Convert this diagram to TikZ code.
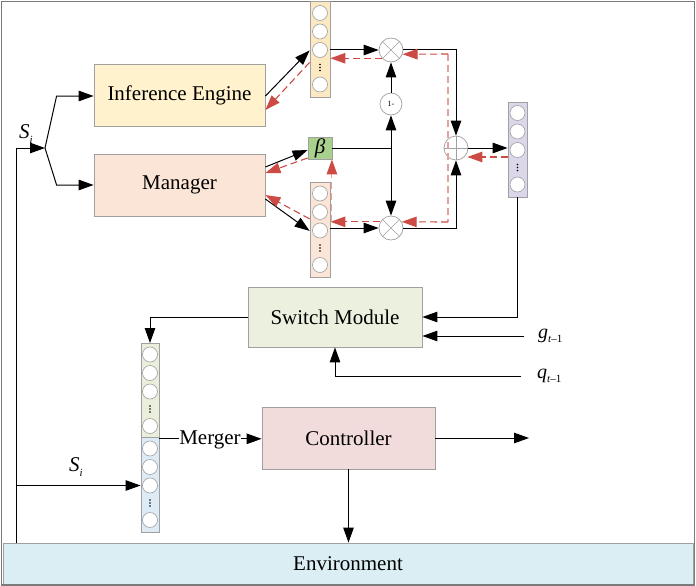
\documentclass[tikz,border=0pt]{standalone}
\usepackage{fontspec}
\setmainfont{Liberation Serif}
\usetikzlibrary{arrows.meta,calc}
\definecolor{framegray}{HTML}{7A7A7A}
\definecolor{boxgray}{HTML}{A0A0A0}
\definecolor{ieFill}{HTML}{FFF2CC}
\definecolor{mgrFill}{HTML}{FBE5D6}
\definecolor{tvFill}{HTML}{FCE9C2}
\definecolor{betaFill}{HTML}{A9D18E}
\definecolor{rvFill}{HTML}{DCD6EA}
\definecolor{swFill}{HTML}{EBF1DE}
\definecolor{mvtFill}{HTML}{E9EFDA}
\definecolor{mvbFill}{HTML}{DDEBF7}
\definecolor{ctrlFill}{HTML}{F2DCDB}
\definecolor{envFill}{HTML}{DAEEF3}
\definecolor{redd}{HTML}{CC4B44}
\definecolor{redl}{HTML}{E6A19D}
\newcommand{\myvec}[5]{% name, center x, top y, fill, width
  \node[vecrect, fill=#4, minimum width=#5, anchor=north] (#1) at (#2,#3) {};
  \foreach \k/\o in {1/11.5,2/30,3/48.5,5/83} \node[vcirc] (#1c\k) at (#2,#3+\o) {};
  \foreach \d in {-3,0,3} \fill (#2,#3+66+\d) circle (0.8);
}
\begin{document}
\begin{tikzpicture}[x=1pt,y=-1pt,
  box/.style={draw=boxgray, line width=0.8pt, inner sep=0pt, font=\fontsize{21}{24}\selectfont},
  vecrect/.style={draw=boxgray, line width=0.8pt, minimum height=95, inner sep=0pt},
  vcirc/.style={circle, draw=boxgray, fill=white, line width=0.6pt, minimum size=15, inner sep=0pt},
  op/.style={circle, draw=boxgray, fill=white, line width=0.7pt, minimum size=24, inner sep=0pt},
  ln/.style={line width=1pt},
  arr/.style={line width=1pt, -{Triangle[length=15pt,width=10.5pt]}},
  rd/.style={draw=redl, line width=1.1pt, dash pattern=on 7pt off 4pt, -{Triangle[length=15pt,width=10.5pt,color=redd]}},
  rdd/.style={draw=redd, line width=1.1pt, dash pattern=on 7pt off 4pt, -{Triangle[length=15pt,width=10.5pt,color=redd]}},
  rdn/.style={draw=redl, line width=1.1pt, dash pattern=on 7pt off 4pt},
  lab/.style={inner sep=0pt, font=\fontsize{21}{24}\selectfont}
]
\useasboundingbox (0,0) rectangle (696,586);
% environment
\node[box, fill=envFill, minimum width=690, minimum height=41] (env) at (348,563.5) {Environment};
\draw[framegray, line width=1.5pt] (1.5,1.5) rectangle (694.5,585);

% main boxes
\node[box, fill=ieFill, minimum width=171, minimum height=62] (ie) at (179.5,95) {Inference Engine};
\node[box, fill=mgrFill, minimum width=171, minimum height=62] (mgr) at (179.5,185) {Manager};
\node[box, fill=swFill, minimum width=174, minimum height=60] (sw) at (335,317) {Switch Module};
\node[box, fill=ctrlFill, minimum width=173, minimum height=62] (ctrl) at (348.5,438) {Controller};

% vectors
\myvec{tv}{320}{1.5}{tvFill}{20}
\myvec{lv}{320}{182}{mgrFill}{20}
\myvec{rv}{517.5}{101.5}{rvFill}{19}
\myvec{mvt}{150}{343}{mvtFill}{18}
\myvec{mvb}{150}{437}{mvbFill}{18}

% beta and operators
\node[draw=boxgray, fill=betaFill, line width=0.8pt, minimum width=24, minimum height=22, inner sep=0pt,
      font=\fontsize{21}{24}\selectfont] (beta) at (320,148) {\textit{β}};
\node[op] (cx1) at (391,50) {};
\node[op, minimum size=22, font=\fontsize{8}{8}\selectfont] (om) at (391,104) {1-};
\node[op] (cx2) at (391,228) {};
\node[op] (plus) at (456,148) {};
\foreach \n in {cx1,cx2} {
  \draw[boxgray, line width=0.6pt] (\n.north west) -- (\n.south east) (\n.north east) -- (\n.south west);
}
\draw[boxgray, line width=0.6pt] (plus.north) -- (plus.south) (plus.west) -- (plus.east);

% left input
\coordinate (lvl) at (16,148);
\coordinate (sp) at (45,148);
\node[lab] (s1) at (26,134) {\textit{S}\raisebox{-0.5ex}{\fontsize{11}{11}\selectfont\textit{i}}};
\draw[ln] (env.north -| lvl) -- (lvl);
\draw[arr] (lvl) -- (sp);
\draw[arr] (sp) -- ($(ie.west)+(-37,1)$) -- ($(ie.west)+(0,1)$);
\draw[arr] (sp) -- ($(mgr.west)+(-37,0)$) -- (mgr.west);
\node[lab] (s2) at (76,467) {\textit{S}\raisebox{-0.5ex}{\fontsize{11}{11}\selectfont\textit{i}}};
\draw[arr] (mvbc3 -| lvl) -- (mvbc3 -| mvb.west);

% IE <-> top vector
\draw[arr] ($(ie.east)+(0,1)$) -- ($(tv.west)+(0,1)$);
\draw[rdd] ($(tv.west)+(0,13)$) -- ($(ie.east)+(0,15)$);
% Manager <-> beta, lower vector
\draw[arr] ($(mgr.east)+(0,-18)$) -- ($(beta.west)+(0,2)$);
\draw[rdd] ($(beta.west)+(0,10)$) -- ($(mgr.east)+(0,-12)$);
\draw[arr] ($(mgr.east)+(0,14)$) -- ($(lv.west)+(0,1)$);
\draw[rdd] ($(lv.west)+(0,-11)$) -- ($(mgr.east)+(0,10)$);

% top path
\draw[arr] (cx1.west -| tv.east) -- (cx1.west);
\draw[rdd] (cx1.222) -- (cx1.222 -| tv.east);
\draw[arr] (cx1.east) -| (plus.north);
% lower path
\draw[arr] (cx2.west -| lv.east) -- (cx2.west);
\draw[arr] (cx2.east) -| (plus.south);
\coordinate (lvj) at (cx2.150 -| lv.east);
\draw[rdd] (cx2.150) -- (lvj);
\draw[rd] ($(lvj)+(1.5,0)$) -- ($(lvj |- beta.south)+(1.5,0)$);
% beta gate
\coordinate (bj) at (beta.east -| cx1);
\draw[ln] (beta.east) -- (bj);
\draw[arr] (bj) -- (om.south);
\draw[arr] (bj) -- (cx2.north);
\draw[arr] (om.north) -- (cx1.south);
% gradient back from plus
\coordinate (gt) at (448,54);
\coordinate (gb) at (448,222);
\draw[rdn] (gt) -- (gb);
\draw[rdd] (gt) -- (cx1.-20);
\draw[rdd] (gb) -- (cx2.30);
\draw[arr] (plus.east) -- (plus.east -| rv.west);
\draw[rdd] ($(plus.east -| rv.west)+(0,9)$) -- ($(plus.east)+(-1,9)$);

% switch module
\draw[arr] (rv.south) |- (sw.east);
\node[lab, anchor=west, font=\fontsize{20}{20}\selectfont] (g) at (538,336) {\textit{g}\raisebox{-0.5ex}{\fontsize{11}{11}\selectfont\textit{t}–1}};
\node[lab, anchor=west, font=\fontsize{20}{20}\selectfont] (q) at (537,376) {\textit{q}\raisebox{-0.5ex}{\fontsize{11}{11}\selectfont\textit{t}–1}};
\draw[arr] ($(g.west)+(-14,0)$) -- ($(g.west -| sw.east)$);
\draw[arr] ($(q.west)+(-16,0)$) -| (sw.south);
\draw[arr] (sw.west) -| (mvt.north);

% merger and controller
\node[lab, anchor=base] (mer) at (210,444) {Merger};
\draw[ln] (mvt.south east) -- (mvt.south east -| mer.west);
\draw[arr] (mvt.south east -| mer.east) -- (mvt.south east -| ctrl.west);
\coordinate (out) at (529,438);
\draw[arr] (ctrl.east) -- (out);
\draw[arr] (ctrl.south) -- (ctrl.south |- env.north);
\end{tikzpicture}
\end{document}
